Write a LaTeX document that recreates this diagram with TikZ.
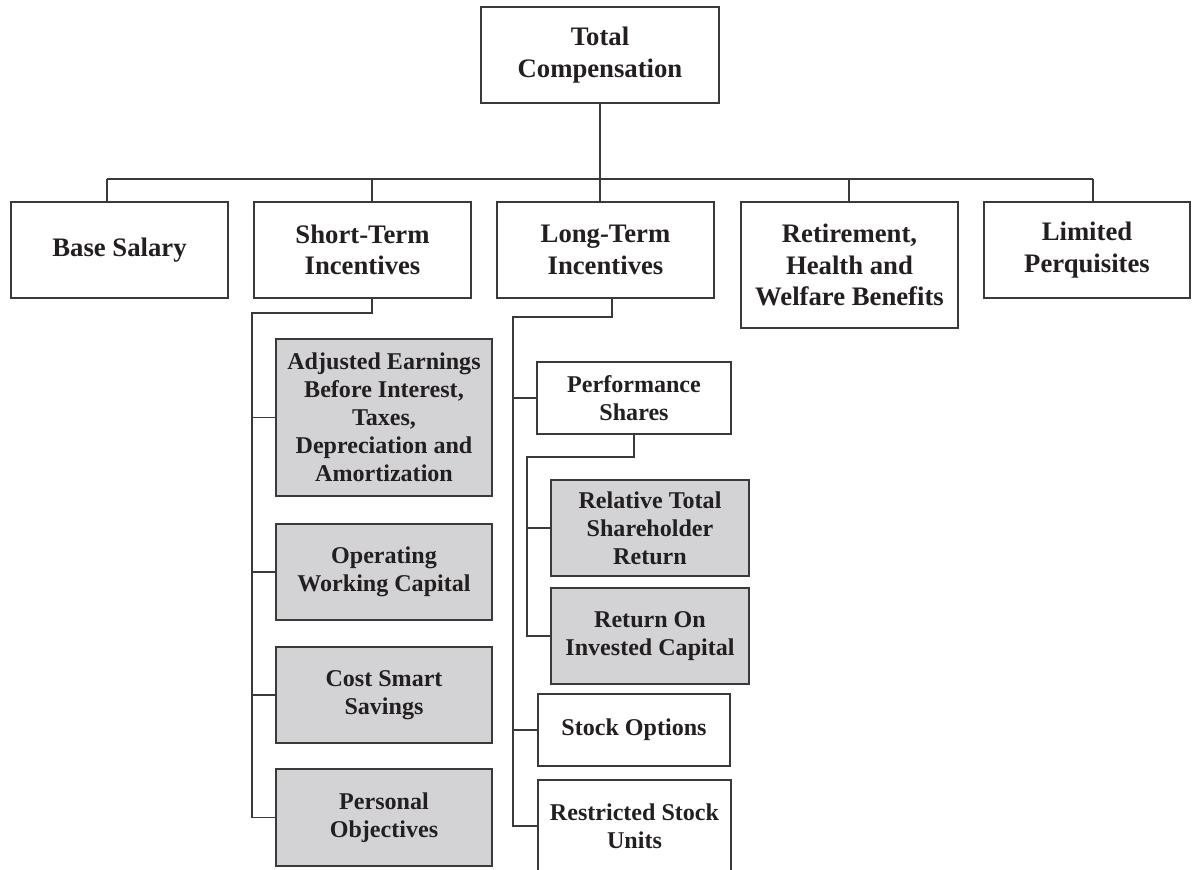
\documentclass[tikz,border=0pt]{standalone}
\usepackage{fontspec}
\setmainfont{Liberation Serif}
\usepackage{xcolor}
\usepackage{tikz}
\usetikzlibrary{positioning}

\definecolor{linegray}{RGB}{58,58,58}
\definecolor{boxgray}{RGB}{211,211,213}
\definecolor{inkblack}{RGB}{35,31,32}

\begin{document}
\begin{tikzpicture}[x=0.02cm, y=-0.02cm,
		conn/.style={draw=linegray, line width=0.9pt},
		box/.style={draw=linegray, line width=0.9pt, rectangle, align=center, inner sep=0pt,
			text=inkblack, font=\fontsize{15.2}{18}\selectfont\bfseries,
			minimum width=4.34cm, minimum height=1.92cm},
		leaf/.style={box, font=\fontsize{13.7}{16}\selectfont\bfseries},
		subbox/.style={leaf, fill=boxgray, minimum width=4.32cm}]
			\path[use as bounding box] (0,0) rectangle (1200,869);
			
			\node[box, minimum width=4.76cm] (TC) at (600,55) {Total\\Compensation} ;
			
			\node[box] (Base) at (119.5,250) {Base Salary} ;
			\node[box] (ST) at (362.5,250) {Short-Term\\Incentives} ;
			\node[box] (LT) at (605.5,250) {Long-Term\\Incentives} ;
			\node[box, minimum height=2.52cm] (Ret) at (849.5,265) {Retirement,\\Health and\\Welfare Benefits} ;
			\node[box, minimum width=4.12cm] (Lim) at (1087,250) {Limited\\Perquisites} ;
			
			\node[subbox, minimum height=3.14cm] (Adj) at (384,417.5) {Adjusted Earnings\\Before Interest,\\Taxes,\\Depreciation and\\Amortization} ;
			\node[subbox] (Oper) at (384,572) {Operating\\Working Capital} ;
			\node[subbox] (Cost) at (384,695) {Cost Smart\\Savings} ;
			\node[subbox, minimum height=1.94cm] (Pers) at (384,817.5) {Personal\\Objectives} ;
			
			\node[leaf, minimum width=3.88cm, minimum height=1.44cm] (Perf) at (634,398) {Performance\\Shares} ;
			\node[subbox, minimum width=3.96cm] (RTSR) at (650,528) {Relative Total\\Shareholder\\Return} ;
			\node[subbox, minimum width=3.96cm] (ROIC) at (650,636) {Return On\\Invested Capital} ;
			\node[leaf, minimum width=3.84cm, minimum height=1.44cm] (SO) at (634,730) {Stock Options} ;
			\node[leaf, minimum width=3.86cm, minimum height=1.84cm] (RSU) at (634.5,826) {Restricted Stock\\Units} ;
			
			% top level bus
			\coordinate (tBase) at (107,179) ;
			\coordinate (tST) at (372,179) ;
			\coordinate (tRet) at (849,179) ;
			\coordinate (tLim) at (1093,179) ;
			\draw[conn] (TC.south) -- (TC.south |- LT.north) ;
			\draw[conn] (tBase) -- (tLim) ;
			\foreach \t/\n in {tBase/Base, tST/ST, tRet/Ret, tLim/Lim}
				\draw[conn] (\t) -- (\t |- \n.north) ;
			
			% short-term branch
			\coordinate (stElbow) at (372,313) ;
			\coordinate (stSpine) at (252,313) ;
			\draw[conn] (stElbow |- ST.south) -- (stElbow) -- (stSpine) |- (Pers.west) ;
			\foreach \n in {Adj, Oper, Cost}
				\draw[conn] (stSpine |- \n.west) -- (\n.west) ;
			
			% long-term branch
			\coordinate (ltElbow) at (612,317) ;
			\coordinate (ltSpine) at (513,317) ;
			\draw[conn] (ltElbow |- LT.south) -- (ltElbow) -- (ltSpine) |- (RSU.west) ;
			\foreach \n in {Perf, SO}
				\draw[conn] (ltSpine |- \n.west) -- (\n.west) ;
			
			% performance shares branch
			\coordinate (psElbow) at (634,457) ;
			\coordinate (psSpine) at (527,457) ;
			\draw[conn] (Perf.south) -- (psElbow) -- (psSpine) |- (ROIC.west) ;
			\draw[conn] (psSpine |- RTSR.west) -- (RTSR.west) ;
		\end{tikzpicture}
\end{document}
